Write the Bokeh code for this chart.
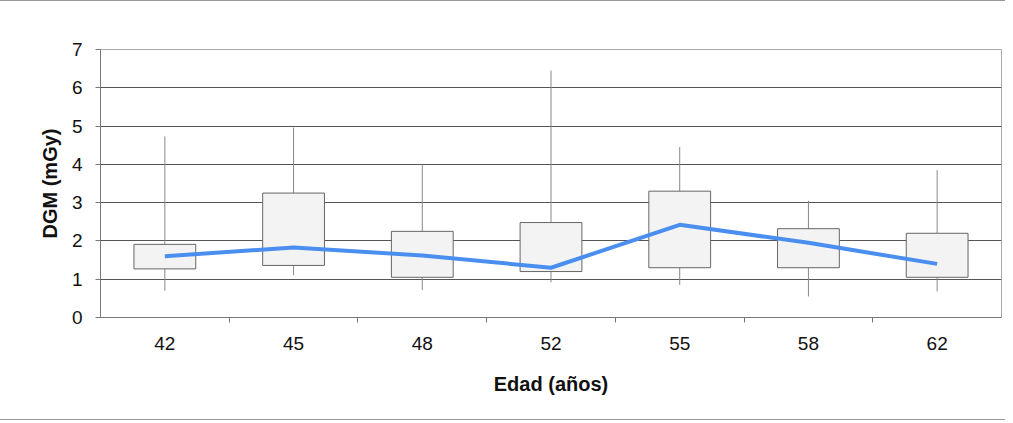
from bokeh.plotting import figure
from bokeh.models import ColumnDataSource, Range1d, FixedTicker
from bokeh.embed import file_html
from bokeh.resources import INLINE

# ---- data ----
edades = ["42", "45", "48", "52", "55", "58", "62"]
box_low = [1.27, 1.36, 1.05, 1.20, 1.30, 1.30, 1.05]
box_high = [1.91, 3.25, 2.25, 2.48, 3.30, 2.32, 2.20]
whisker_min = [0.70, 1.10, 0.72, 0.92, 0.85, 0.55, 0.68]
whisker_max = [4.73, 4.96, 4.00, 6.45, 4.45, 3.05, 3.85]
media = [1.60, 1.83, 1.62, 1.30, 2.42, 1.95, 1.40]

idx = list(range(len(edades)))
src = ColumnDataSource(dict(x=idx, lo=box_low, hi=box_high,
                            wmin=whisker_min, wmax=whisker_max, m=media))

p = figure(width=1005, height=420, output_backend="svg", toolbar_location=None,
           x_range=Range1d(-0.5, len(edades) - 0.5), y_range=Range1d(0, 7),
           min_border_left=100, min_border_right=4, min_border_top=48,
           min_border_bottom=104)
p.background_fill_color = "white"
p.border_fill_color = "white"
p.outline_line_color = "#aaaaaa"
p.styles = {"border-top": "1px solid #999999", "border-bottom": "1px solid #999999"}

# whiskers
p.segment(x0="x", y0="wmin", x1="x", y1="wmax", source=src,
          line_color="#888888", line_width=1)
# boxes
p.vbar(x="x", width=0.48, bottom="lo", top="hi", source=src,
       fill_color="#f3f3f3", line_color="#666666", line_width=1)
# mean line
p.line(x="x", y="m", source=src, line_color="#4a8ff0", line_width=4)

# grid
p.xgrid.visible = False
p.ygrid.grid_line_color = "#555555"
p.ygrid.grid_line_width = 1
p.ygrid.ticker = FixedTicker(ticks=list(range(1, 8)))

# x axis
p.xaxis.ticker = FixedTicker(ticks=idx, minor_ticks=[i + 0.5 for i in idx[:-1]])
p.xaxis.major_label_overrides = {i: e for i, e in zip(idx, edades)}
p.xaxis.major_tick_out = 0
p.xaxis.major_tick_in = 0
p.xaxis.minor_tick_out = 5
p.xaxis.minor_tick_in = 0
p.xaxis.minor_tick_line_color = "#777777"
p.xaxis.axis_line_color = "#777777"
p.xaxis.major_label_standoff = 14
p.xaxis.axis_label = "Edad (años)"
p.xaxis.axis_label_standoff = 20

# y axis
p.yaxis.ticker = FixedTicker(ticks=list(range(0, 8)))
p.yaxis.major_tick_out = 5
p.yaxis.major_tick_in = 0
p.yaxis.minor_tick_line_color = None
p.yaxis.axis_line_color = "#777777"
p.yaxis.major_tick_line_color = "#777777"
p.yaxis.major_label_standoff = 13
p.yaxis.axis_label = "DGM (mGy)"
p.yaxis.axis_label_standoff = 8

for ax in (p.xaxis, p.yaxis):
    ax.major_label_text_font = "Liberation Sans"
    ax.major_label_text_font_size = "19px"
    ax.major_label_text_color = "#111111"
    ax.axis_label_text_font = "Liberation Sans"
    ax.axis_label_text_font_size = "20px"
    ax.axis_label_text_font_style = "bold"
    ax.axis_label_text_color = "#111111"

open("out.html", "w").write(file_html(p, INLINE))
